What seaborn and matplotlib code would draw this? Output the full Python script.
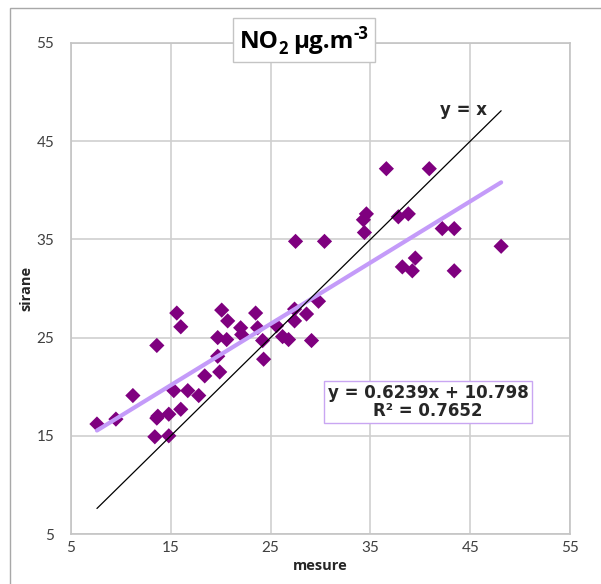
import numpy as np
import pandas as pd
import matplotlib
matplotlib.use("Agg")
import matplotlib.pyplot as plt
import matplotlib.transforms as mtransforms
import seaborn as sns
from matplotlib.patches import Rectangle

# Measured vs. modelled (SIRANE) NO2 concentrations, µg/m3
mesure = [7.6, 9.5, 11.2, 13.6, 15.6, 16.0, 13.4, 13.6, 13.7, 14.8,
          14.8, 15.3, 16.0, 16.7, 17.8, 18.4, 19.9, 19.7, 19.7, 20.1,
          20.7, 23.5, 22.0, 22.1, 20.6, 23.7, 24.2, 25.6, 27.4, 27.4,
          28.6, 29.8, 26.2, 26.8, 29.1, 24.3, 27.5, 30.4, 34.6, 34.3,
          34.4, 36.6, 40.9, 37.8, 38.8, 42.2, 43.4, 48.1, 39.5, 38.2,
          39.2, 43.4]
sirane = [16.2, 16.7, 19.1, 24.2, 27.5, 26.1, 14.9, 16.8, 17.0, 17.2,
          15.0, 19.6, 17.7, 19.6, 19.1, 21.1, 21.5, 23.1, 25.0, 27.8,
          26.7, 27.5, 26.0, 25.3, 24.8, 26.0, 24.7, 26.2, 27.9, 26.7,
          27.4, 28.7, 25.1, 24.8, 24.7, 22.8, 34.8, 34.8, 37.6, 37.0,
          35.7, 42.2, 42.2, 37.3, 37.6, 36.1, 36.1, 34.3, 33.1, 32.2,
          31.8, 31.8]

# Linear trend reported on the chart
slope = 0.6239
intercept = 10.798
r_squared = 0.7652

ticks = [5, 15, 25, 35, 45, 55]

# Title pieces: (text, font size, baseline shift px, gap before px)
title_parts = [("NO", 17.5, 0, 0), ("2", 12, -6, 0),
               ("µg.m", 17.5, 0, 5), ("-3", 12, 9, 0)]

BOLD_FONT = ["Open Sans", "DejaVu Sans"]

sns.set_theme(style="whitegrid")
plt.rcParams["font.family"] = ["Lato", "DejaVu Sans"]

df = pd.DataFrame({"mesure": mesure, "sirane": sirane})

W, H = 601, 584
fig = plt.figure(figsize=(W / 100, H / 100), dpi=100)
fig.patch.set_facecolor("white")
ax = fig.add_axes([71 / W, 1 - 534 / H, (570 - 71) / W, (534 - 43) / H])

sns.scatterplot(data=df, x="mesure", y="sirane", marker="D", s=60,
                color="#7F007F", edgecolor="none", linewidth=0,
                zorder=2, ax=ax)

xs = np.array([min(mesure), max(mesure)])
sns.lineplot(x=xs, y=slope * xs + intercept, ax=ax, color="#C49BF9",
             linewidth=3.0, zorder=3)
sns.lineplot(x=xs, y=xs, ax=ax, color="black", linewidth=0.9, zorder=4)

ax.set_xlim(5, 55)
ax.set_ylim(5, 55)
ax.set_xticks(ticks)
ax.set_yticks(ticks)
ax.grid(True, color="#CFCFCF", linewidth=1.2)
for sp in ax.spines.values():
    sp.set_color("#C4C4C4")
    sp.set_linewidth(1.2)
ax.tick_params(axis="both", length=0, labelsize=11, colors="#404040")
ax.tick_params(axis="x", pad=5)
ax.tick_params(axis="y", pad=12)
for lab in ax.get_xticklabels() + ax.get_yticklabels():
    lab.set_color("#404040")

ax.set_xlabel("mesure", fontsize=10.5, fontweight="bold", family=BOLD_FONT,
              labelpad=3)
ax.set_ylabel("sirane", fontsize=10.5, fontweight="bold", family=BOLD_FONT,
              labelpad=2)

# Title: white framed box straddling the top of the plot area,
# text assembled piece by piece for the subscript and superscript
fig.patches.append(Rectangle((233 / W, 1 - 62 / H), (375 - 233) / W, 44 / H,
                             transform=fig.transFigure, facecolor="white",
                             edgecolor="#C4C4C4", linewidth=1.0, zorder=5))
renderer = fig.canvas.get_renderer()
pix = mtransforms.IdentityTransform()
texts, widths = [], []
for s, size, dy, gap in title_parts:
    t = fig.text(0, 0, s, fontsize=size, fontweight="bold", family=BOLD_FONT,
                 color="black", ha="left", va="baseline", transform=pix,
                 zorder=6)
    texts.append(t)
    widths.append(t.get_window_extent(renderer).width)
total = sum(widths) + sum(p[3] for p in title_parts)
x0 = 304 - total / 2
baseline = H - 48
for t, w, (s, size, dy, gap) in zip(texts, widths, title_parts):
    x0 += gap
    t.set_position((x0, baseline + dy))
    x0 += w

fig.text(463 / W, 1 - 110 / H, "y = x", ha="center", va="center",
         fontsize=12, fontweight="bold", family="DejaVu Sans")

fig.text(428 / W, 1 - 402 / H,
         f"y = {slope}x + {intercept}\nR² = {r_squared}",
         ha="center", va="center", multialignment="center",
         fontsize=12, fontweight="bold", family="DejaVu Sans",
         linespacing=1.0,
         bbox=dict(boxstyle="square,pad=0.2", facecolor="white",
                   edgecolor="#C9A6F2", linewidth=1.0), zorder=10)

# Outer chart frame
fig.patches.append(Rectangle((10 / W, -0.05), 1.1, 1 - 8 / H + 0.05,
                             transform=fig.transFigure, fill=False,
                             edgecolor="#A8A8A8", linewidth=1.0))

fig.savefig("out.png", dpi=100)
